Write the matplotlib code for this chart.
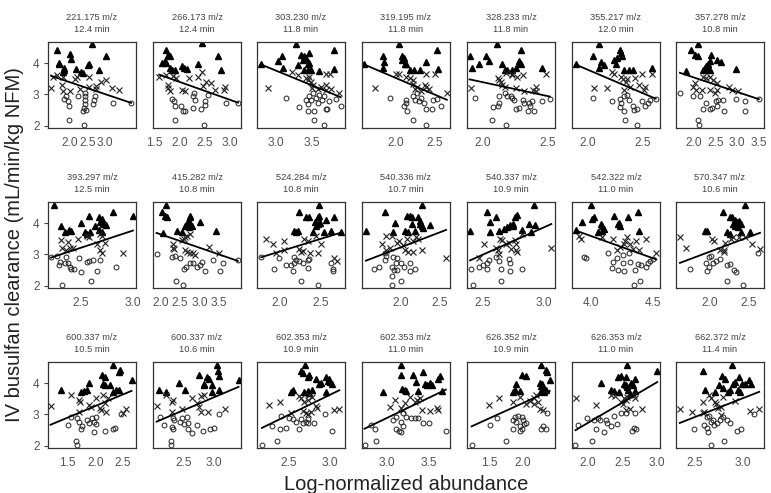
import numpy as np
import matplotlib
matplotlib.use("Agg")
import matplotlib.pyplot as plt

plt.rcParams['font.family'] = ['Liberation Sans', 'DejaVu Sans']

mz_labels = ["221.175 m/z", "266.173 m/z", "303.230 m/z", "319.195 m/z", "328.233 m/z", "355.217 m/z", "357.278 m/z",
             "393.297 m/z", "415.282 m/z", "524.284 m/z", "540.336 m/z", "540.337 m/z", "542.322 m/z", "570.347 m/z",
             "600.337 m/z", "600.337 m/z", "602.353 m/z", "602.353 m/z", "626.352 m/z", "626.353 m/z", "662.372 m/z"]
rt_labels = ["12.4 min", "12.4 min", "11.8 min", "11.8 min", "11.8 min", "12.0 min", "10.8 min",
             "12.5 min", "10.8 min", "10.8 min", "10.7 min", "10.9 min", "11.0 min", "10.6 min",
             "10.5 min", "10.6 min", "10.9 min", "11.0 min", "10.9 min", "11.0 min", "11.4 min"]
x_ticks = [[2.0, 2.5, 3.0], [1.5, 2.0, 2.5, 3.0], [3.0, 3.5], [2.0, 2.5], [2.0, 2.5], [2.0, 2.5], [2.0, 2.5, 3.0, 3.5],
           [2.5, 3.0], [2.0, 2.5, 3.0, 3.5], [2.0, 2.5], [2.0, 2.5], [2.5, 3.0], [4.0, 4.5], [2.0, 2.5],
           [1.5, 2.0, 2.5], [2.5, 3.0], [2.5, 3.0], [3.0, 3.5], [1.5, 2.0], [2.0, 2.5, 3.0], [2.5, 3.0]]
x_limits = [(1.40, 3.87), (1.48, 3.21), (2.73, 3.96), (1.58, 2.69), (1.88, 2.56), (1.856, 2.66), (1.58, 3.62),
            (2.18, 3.03), (1.81, 4.06), (1.73, 2.79), (1.51, 2.63), (2.37, 3.09), (3.85, 4.56), (1.58, 2.69),
            (1.155, 2.73), (2.0, 3.44), (2.11, 3.19), (2.70, 3.75), (1.17, 2.49), (1.77, 3.04), (2.30, 3.22)]
y_ticks = [2, 3, 4]
y_limits = (1.93, 4.67)

# fitted linear regression (clearance = intercept + slope * abundance) per panel
fit_slope = [-0.383, -0.576, -0.935, -1.078, -0.883, -1.486, -0.459,
             1.090, -0.429, 0.816, 0.961, 1.742, -1.415, 0.949,
             0.745, 0.827, 1.263, 1.284, 0.964, 1.299, 1.195]
fit_intercept = [4.160, 4.552, 6.559, 5.686, 5.157, 6.759, 4.455,
                 0.490, 4.500, 1.457, 1.301, -1.362, 9.251, 1.183,
                 1.776, 1.066, -0.171, -0.961, 1.425, 0.133, -0.068]

# (abundance, clearance) pairs per panel; triangles = high, crosses = mid, circles = low clearance
high = [
 [(1.65,4.43),(2.63,4.62),(3.04,4.23),(2.03,4.29),(2.05,4.13),(1.70,4.0),(1.72,3.97),(1.84,3.84),(1.85,3.79),(1.83,3.73),(2.19,3.81),(2.33,3.73),(2.56,3.97),(2.53,3.93),(2.83,3.77),(2.38,3.68)],
 [(1.73,4.43),(2.44,4.64),(2.76,4.23),(1.78,4.27),(1.82,4.21),(1.71,4.05),(1.74,4.0),(1.82,3.84),(1.85,3.79),(1.92,3.79),(2.05,3.89),(2.08,3.84),(2.15,3.81),(2.37,3.97),(2.82,3.77),(1.66,4.0)],
 [(3.27,4.62),(2.79,3.98),(3.02,4.05),(3.08,4.23),(3.09,3.84),(3.31,3.95),(3.35,4.27),(3.37,4.11),(3.39,4.21),(3.42,4.16),(3.44,3.98),(3.46,4.0),(3.39,3.79),(3.44,3.77),(3.49,3.79),(3.60,3.76),(3.80,4.43),(3.80,3.81),(3.46,4.32)],
 [(2.05,4.62),(1.61,3.98),(1.84,4.23),(1.86,4.02),(1.84,3.84),(2.08,4.21),(2.11,4.16),(2.09,4.11),(2.12,3.98),(2.14,3.98),(2.18,3.79),(2.23,3.77),(2.31,3.77),(2.39,4.02),(2.52,4.43),(2.54,3.81)],
 [(2.115,4.62),(1.92,3.84),(1.90,4.21),(1.97,3.98),(2.03,4.23),(2.05,4.05),(2.17,3.77),(2.19,3.77),(2.23,3.79),(2.15,3.98),(2.26,3.84),(2.30,4.43),(2.28,4.05),(2.29,4.0),(2.30,3.97),(2.46,3.84)],
 [(2.10,4.62),(1.89,3.98),(2.05,4.23),(2.12,4.02),(2.15,3.95),(2.10,3.84),(2.24,4.11),(2.26,3.98),(2.29,4.43),(2.30,4.32),(2.31,4.23),(2.27,4.16),(2.33,3.77),(2.38,3.79),(2.41,3.77),(2.59,3.84)],
 [(2.08,4.62),(1.92,4.43),(2.02,4.27),(2.09,4.23),(1.81,3.76),(2.21,3.79),(2.25,3.84),(2.28,3.89),(2.32,3.98),(2.36,4.05),(2.40,4.27),(2.28,3.77),(2.36,3.77),(2.52,4.11),(2.63,4.02),(2.96,3.81)],
 [(2.24,4.56),(2.31,3.92),(2.34,3.73),(2.38,3.78),(2.40,3.76),(2.50,4.00),(2.58,4.21),(2.54,3.71),(2.56,3.66),(2.59,3.71),(2.63,3.89),(2.67,4.18),(2.70,4.13),(2.68,4.02),(2.71,3.97),(2.74,3.95),(2.67,3.78),(2.70,3.73),(2.81,4.36),(3.00,4.21)],
 [(2.14,4.56),(2.05,4.36),(2.11,4.23),(2.16,4.18),(2.07,3.68),(2.42,3.76),(2.55,3.73),(2.63,3.92),(2.68,3.99),(2.72,4.07),(2.75,4.18),(2.76,4.23),(2.72,3.86),(2.81,3.92),(3.01,4.02),(3.41,3.76)],
 [(2.48,4.56),(2.24,4.36),(2.32,4.20),(2.36,4.18),(2.46,4.20),(2.48,4.23),(2.43,4.02),(2.46,3.97),(2.49,3.99),(2.44,3.92),(2.56,4.09),(2.66,4.20),(2.18,3.76),(2.22,3.76),(2.20,3.71),(2.40,3.71),(2.54,3.73),(2.62,3.76),(2.74,3.71)],
 [(1.56,3.76),(1.80,4.36),(2.08,4.21),(2.12,4.23),(2.14,4.20),(2.28,4.56),(1.93,3.99),(2.15,3.97),(2.22,4.18),(2.25,4.07),(2.25,3.97),(2.27,3.89),(2.29,3.84),(2.37,3.95),(1.91,3.71),(2.06,3.74),(2.10,3.71),(2.18,3.76)],
 [(2.395,3.76),(2.53,4.36),(2.56,4.02),(2.61,4.20),(2.56,3.71),(2.63,3.76),(2.67,3.81),(2.70,3.86),(2.72,3.95),(2.75,3.92),(2.76,4.18),(2.92,4.56),(2.78,4.26),(2.75,3.97),(2.875,3.97),(2.93,3.95),(2.89,3.71),(2.82,3.78)],
 [(4.005,4.56),(3.88,3.78),(3.93,4.02),(4.01,4.13),(4.03,4.18),(4.08,3.97),(4.09,3.92),(4.06,3.71),(4.09,3.76),(4.11,3.81),(4.19,4.23),(4.22,3.97),(4.23,3.99),(4.24,3.92),(4.30,4.20),(4.38,4.36),(4.39,3.74)],
 [(2.45,4.56),(2.175,4.36),(1.95,3.76),(1.97,3.76),(2.26,4.20),(2.29,4.18),(2.32,4.09),(2.35,4.02),(2.375,4.07),(2.30,3.97),(2.33,3.92),(2.36,3.86),(2.40,3.97),(2.22,3.71),(2.26,3.66),(2.40,3.71),(2.51,3.71)],
 [(2.32,4.58),(1.38,3.77),(1.74,3.72),(1.80,3.74),(1.85,3.77),(1.88,4.00),(2.12,4.24),(2.18,4.19),(2.14,3.98),(2.18,3.93),(2.27,3.93),(2.32,3.72),(2.43,4.35),(2.45,4.40),(2.37,3.77),(2.43,3.77),(2.65,4.10)],
 [(2.10,3.77),(2.22,3.72),(2.42,4.00),(2.53,3.77),(2.75,4.24),(2.83,3.98),(2.84,3.93),(2.89,4.19),(2.92,4.14),(2.97,3.72),(3.04,4.58),(3.07,4.38),(3.08,4.21),(3.08,3.77),(3.40,4.10),(2.96,3.93)],
 [(2.70,4.58),(2.65,4.38),(2.67,4.31),(2.73,4.19),(2.75,4.24),(2.83,4.14),(2.53,3.72),(2.55,3.77),(2.69,3.72),(2.73,3.74),(2.75,3.69),(2.79,3.77),(2.87,3.98),(2.90,4.00),(2.96,4.19),(2.99,4.14),(2.98,4.08),(3.03,3.98),(3.01,4.04),(2.96,3.72)],
 [(3.17,4.58),(2.95,3.72),(3.17,4.24),(3.18,3.82),(3.21,3.79),(3.23,3.75),(3.31,4.24),(3.35,4.03),(3.43,4.35),(3.37,3.74),(3.45,3.98),(3.47,3.93),(3.51,4.00),(3.53,3.93),(3.61,4.14),(3.63,4.21),(3.66,3.74)],
 [(1.91,3.96),(1.885,3.77),(1.86,3.72),(2.28,4.58),(2.00,4.24),(2.06,4.21),(2.35,4.40),(2.37,4.35),(2.41,4.10),(2.26,4.00),(2.30,3.96),(2.28,3.90),(2.31,3.85),(1.96,3.75),(2.28,3.75),(2.33,3.72),(2.36,3.77)],
 [(2.57,4.58),(3.00,4.38),(2.19,4.00),(2.43,4.19),(2.47,4.21),(2.55,4.19),(2.33,3.77),(2.38,3.75),(2.52,3.98),(2.55,3.93),(2.57,3.87),(2.58,3.77),(2.62,4.00),(2.65,3.93),(2.68,4.14),(2.45,3.72),(2.60,3.66),(2.68,3.75)],
 [(2.58,4.38),(2.89,4.58),(2.60,3.77),(2.71,3.72),(2.78,4.21),(2.81,4.14),(2.75,3.93),(2.79,3.85),(2.84,3.72),(2.86,3.77),(2.90,3.98),(2.92,4.04),(2.96,4.19),(2.99,3.96),(3.02,3.98),(2.95,3.77),(2.97,3.72),(3.06,4.10),(3.08,3.96)],
]
mid = [
 [(1.49,3.20),(1.54,3.55),(1.65,3.62),(1.82,3.57),(1.80,3.31),(1.81,3.10),(2.01,3.10),(2.17,3.49),(2.20,3.55),(2.31,3.17),(2.54,3.54),(2.56,3.23),(2.74,3.28),(2.74,3.17),(2.88,3.38),(3.02,3.45),(3.19,3.20),(3.39,3.13)],
 [(1.60,3.55),(1.73,3.63),(1.77,3.31),(1.77,3.20),(1.82,3.10),(1.88,3.60),(1.94,3.52),(2.05,3.15),(2.10,3.10),(2.18,3.52),(2.37,3.55),(2.44,3.70),(2.47,3.26),(2.52,3.41),(2.63,3.36),(2.69,3.13),(2.89,3.23),(2.87,3.15)],
 [(2.88,3.20),(3.22,3.70),(3.31,3.63),(3.42,3.52),(3.44,3.47),(3.45,3.57),(3.49,3.41),(3.51,3.31),(3.50,3.20),(3.58,3.17),(3.63,3.23),(3.69,3.66),(3.75,3.66),(3.70,3.31),(3.69,3.13),(3.87,3.06),(3.76,3.17)],
 [(1.74,3.20),(2.01,3.66),(2.05,3.66),(2.13,3.57),(2.18,3.52),(2.22,3.47),(2.22,3.34),(2.25,3.17),(2.28,3.23),(2.33,3.10),(2.37,3.31),(2.39,3.23),(2.42,3.17),(2.39,3.66),(2.50,3.66),(2.65,3.06)],
 [(1.91,3.20),(2.12,3.52),(2.13,3.47),(2.14,3.38),(2.15,3.31),(2.17,3.23),(2.18,3.68),(2.23,3.63),(2.26,3.20),(2.23,3.66),(2.31,3.63),(2.27,3.55),(2.32,3.10),(2.39,3.15),(2.41,3.23),(2.41,3.10),(2.49,3.66)],
 [(2.06,3.20),(2.18,3.20),(2.22,3.70),(2.24,3.66),(2.30,3.57),(2.32,3.49),(2.35,3.41),(2.36,3.49),(2.33,3.15),(2.39,3.23),(2.43,3.52),(2.47,3.31),(2.50,3.66),(2.52,3.23),(2.51,3.15),(2.59,3.66)],
 [(2.02,3.36),(1.98,3.23),(2.05,3.15),(2.19,3.15),(2.21,3.57),(2.28,3.52),(2.36,3.55),(2.44,3.47),(2.36,3.13),(2.48,3.06),(2.52,3.15),(2.53,3.36),(2.82,3.23),(2.88,3.13),(3.02,3.10)],
 [(2.31,3.47),(2.37,3.40),(2.32,3.22),(2.35,3.14),(2.39,3.22),(2.42,3.19),(2.47,3.50),(2.56,3.60),(2.58,3.55),(2.68,3.66),(2.70,3.60),(2.65,3.34),(2.73,3.36),(2.68,3.14),(2.70,3.03),(2.90,3.03)],
 [(2.31,3.32),(2.33,3.22),(2.35,3.16),(2.55,3.45),(2.59,3.50),(2.63,3.55),(2.68,3.60),(2.76,3.66),(2.63,3.14),(2.69,3.08),(2.76,3.05),(2.83,3.03),(2.89,2.98),(3.24,3.24),(3.50,3.05)],
 [(1.84,3.50),(1.92,3.32),(2.06,3.43),(1.96,3.03),(2.06,3.14),(2.23,3.16),(2.26,3.08),(2.30,3.50),(2.34,3.43),(2.28,3.11),(2.37,3.03),(2.46,3.03),(2.50,3.32),(2.44,3.60),(2.66,2.88),(2.69,2.80)],
 [(1.76,3.32),(1.81,3.60),(1.89,3.60),(1.82,3.14),(1.86,3.19),(1.95,3.36),(1.98,3.43),(2.03,3.29),(2.08,3.50),(2.16,3.43),(2.06,3.14),(2.10,3.08),(2.16,3.08),(2.20,3.55),(2.22,3.50),(2.27,3.14),(2.58,2.88)],
 [(2.47,2.88),(2.51,3.32),(2.61,3.22),(2.62,3.14),(2.64,3.50),(2.66,3.45),(2.63,3.01),(2.69,3.32),(2.71,3.36),(2.73,3.16),(2.78,3.08),(2.82,3.66),(2.76,3.45),(2.77,3.32),(2.77,3.14),(3.06,3.19)],
 [(3.91,3.60),(3.92,3.50),(4.09,3.57),(4.18,3.50),(4.21,3.14),(4.24,3.24),(4.27,3.34),(4.28,3.43),(4.29,3.55),(4.32,3.32),(4.34,3.16),(4.37,3.43),(4.39,3.14),(4.45,3.50),(4.53,3.03)],
 [(1.63,3.57),(1.71,3.19),(2.03,3.50),(2.06,3.43),(2.20,3.36),(2.28,3.50),(2.30,3.57),(2.13,3.14),(2.18,3.08),(2.19,3.14),(2.38,3.55),(2.45,3.57),(2.54,3.32),(2.64,3.16)],
 [(1.20,3.27),(1.56,3.61),(1.71,3.46),(1.72,3.40),(1.71,3.09),(1.88,3.30),(1.92,3.25),(2.02,3.51),(2.08,3.19),(2.11,3.14),(2.14,3.61),(2.17,3.35),(2.20,3.09),(2.23,3.51),(2.50,3.06),(2.55,3.16)],
 [(2.06,3.27),(2.22,3.61),(2.31,3.40),(2.33,3.46),(2.31,3.09),(2.47,3.16),(2.64,3.51),(2.72,3.35),(2.75,3.25),(2.78,3.09),(2.78,3.58),(2.83,3.61),(2.90,3.09),(3.17,3.16)],
 [(2.26,3.30),(2.39,3.40),(2.53,3.06),(2.63,3.58),(2.65,3.51),(2.69,3.40),(2.73,3.46),(2.75,3.61),(2.78,3.56),(2.67,3.12),(2.71,3.06),(2.73,3.02),(2.77,3.09),(2.83,3.27),(2.85,3.19),(3.05,3.13),(3.12,3.16)],
 [(3.03,3.25),(3.09,3.46),(3.17,3.22),(3.19,3.14),(3.21,3.35),(3.27,3.56),(3.33,3.40),(3.36,3.47),(3.39,3.51),(3.41,3.14),(3.51,3.12),(3.59,3.22),(3.61,3.14)],
 [(1.50,3.30),(1.65,3.51),(1.86,3.40),(1.96,3.56),(2.06,3.33),(2.12,3.43),(2.17,3.51),(2.21,3.61),(2.18,3.33),(2.23,3.40),(2.27,3.16),(2.31,3.14)],
 [(1.83,3.51),(2.11,3.30),(2.33,3.61),(2.39,3.58),(2.48,3.40),(2.50,3.33),(2.52,3.51),(2.55,3.46),(2.57,3.56),(2.55,3.14),(2.60,3.16),(2.66,3.61),(2.68,3.51),(2.78,3.16)],
 [(2.34,3.16),(2.47,3.09),(2.58,3.40),(2.58,3.04),(2.59,3.09),(2.64,3.61),(2.67,3.51),(2.71,3.40),(2.72,3.33),(2.74,3.19),(2.77,3.25),(2.79,3.56),(2.77,2.98),(2.92,3.43),(3.07,3.12),(3.17,3.16)],
]
low = [
 [(1.86,2.85),(1.91,2.94),(1.95,2.78),(2.00,2.64),(1.98,2.17),(2.25,2.94),(2.43,3.06),(2.43,2.94),(2.44,2.83),(2.44,2.70),(2.42,2.56),(2.38,2.46),(2.48,2.51),(2.42,2.03),(2.69,2.83),(2.72,2.94),(2.67,2.70),(3.22,2.74),(3.73,2.72)],
 [(1.85,2.85),(1.89,2.78),(1.92,2.64),(2.04,2.62),(2.06,2.48),(2.10,2.46),(1.92,2.17),(2.27,2.94),(2.30,2.83),(2.29,3.06),(2.27,2.56),(2.42,2.53),(2.50,2.78),(2.51,2.67),(2.56,2.99),(2.49,2.03),(2.92,2.72),(3.15,2.72)],
 [(3.14,2.90),(3.32,2.59),(3.44,2.46),(3.46,2.94),(3.49,2.83),(3.51,3.04),(3.41,2.83),(3.44,2.70),(3.56,2.88),(3.58,2.74),(3.60,2.99),(3.52,2.46),(3.52,2.17),(3.64,2.83),(3.67,2.94),(3.69,2.53),(3.71,2.53),(3.74,2.78),(3.84,2.85),(3.90,2.64),(3.67,2.03)],
 [(1.93,2.90),(2.11,2.62),(2.14,2.83),(2.13,2.72),(2.15,2.46),(2.22,2.94),(2.25,2.83),(2.27,3.04),(2.32,2.90),(2.30,2.78),(2.22,2.17),(2.36,2.72),(2.39,2.53),(2.46,2.53),(2.47,2.83),(2.53,2.85),(2.58,2.64),(2.39,2.03)],
 [(1.94,2.90),(2.08,2.59),(2.13,2.94),(2.13,2.72),(2.12,2.64),(2.17,3.04),(2.19,2.94),(2.22,2.94),(2.24,2.83),(2.07,2.17),(2.18,2.03),(2.26,2.53),(2.23,2.90),(2.31,2.83),(2.32,2.72),(2.36,2.72),(2.37,2.64),(2.38,2.78),(2.35,2.46),(2.40,2.46),(2.28,2.56),(2.46,2.78),(2.52,2.85)],
 [(2.05,2.90),(2.22,2.78),(2.29,2.85),(2.30,2.72),(2.29,2.59),(2.33,2.94),(2.36,2.99),(2.33,2.46),(2.38,2.83),(2.41,2.64),(2.42,2.51),(2.45,2.53),(2.34,2.17),(2.45,2.03),(2.50,2.78),(2.52,2.64),(2.55,2.72),(2.57,2.83),(2.62,2.85)],
 [(1.67,3.04),(1.98,2.94),(2.13,2.94),(2.21,2.53),(2.28,2.72),(2.36,2.53),(2.42,2.56),(2.50,2.78),(2.55,2.83),(2.52,2.64),(2.67,2.83),(2.69,2.46),(2.09,2.17),(2.12,2.03),(2.98,2.85),(3.17,2.78),(3.17,2.48),(3.50,2.85)],
 [(2.21,2.93),(2.27,2.95),(2.29,2.67),(2.30,2.77),(2.34,2.72),(2.37,2.74),(2.35,2.93),(2.39,2.61),(2.40,2.53),(2.43,2.53),(2.48,2.88),(2.50,2.43),(2.56,2.77),(2.58,2.80),(2.61,2.82),(2.60,2.15),(2.65,2.46),(2.68,2.82),(2.84,2.61),(2.32,2.04)],
 [(1.90,3.01),(2.29,2.91),(2.37,2.95),(2.50,2.88),(2.59,2.53),(2.66,2.61),(2.75,2.72),(2.83,2.74),(2.94,2.61),(3.01,2.66),(3.07,2.77),(3.13,2.46),(3.35,2.82),(3.53,2.46),(3.59,2.74),(2.40,2.15),(2.57,2.04),(3.98,2.82)],
 [(1.78,2.91),(1.99,2.88),(1.94,2.53),(2.08,2.67),(2.14,2.67),(2.17,2.91),(2.20,2.82),(2.18,2.74),(2.24,2.80),(2.28,2.74),(2.34,2.82),(2.36,2.84),(2.16,2.46),(2.35,2.56),(2.26,2.15),(2.47,2.04),(2.64,2.46),(2.65,2.53),(2.62,2.72)],
 [(1.80,3.05),(1.82,2.95),(1.66,2.53),(1.73,2.61),(1.80,2.82),(1.91,2.91),(1.95,2.88),(1.94,2.74),(1.89,2.59),(1.92,2.51),(1.95,2.51),(1.89,2.30),(2.01,2.72),(2.04,2.61),(2.01,2.15),(1.89,2.04),(2.12,2.46),(2.18,2.53),(2.12,2.72)],
 [(2.40,2.53),(2.47,2.61),(2.50,2.67),(2.53,2.74),(2.55,2.82),(2.61,2.91),(2.63,2.80),(2.65,2.53),(2.71,2.84),(2.72,2.72),(2.72,2.46),(2.65,2.15),(2.42,2.04),(2.53,2.53),(2.82,2.53)],
 [(3.95,2.93),(3.96,2.88),(4.14,3.03),(4.18,2.77),(4.17,2.56),(4.21,2.88),(4.22,2.51),(4.26,2.72),(4.27,2.46),(4.26,2.98),(4.31,3.03),(4.32,2.77),(4.36,2.51),(4.38,2.70),(4.41,2.67),(4.45,2.61),(4.46,2.72),(4.48,2.80),(4.50,2.84),(4.35,2.04),(4.40,2.15)],
 [(1.76,2.53),(2.00,2.91),(2.02,2.95),(1.96,2.72),(1.99,2.61),(1.975,2.46),(2.09,2.80),(2.13,2.84),(2.22,2.67),(2.26,2.70),(2.31,2.51),(2.34,2.43),(2.05,2.74),(2.225,2.15),(2.42,2.04),(2.61,3.03)],
 [(1.52,2.67),(1.56,2.91),(1.68,2.88),(1.71,2.77),(1.74,2.53),(1.77,2.62),(1.86,2.81),(1.89,2.72),(1.95,2.88),(1.98,2.77),(2.02,2.91),(2.02,2.69),(1.65,2.15),(1.68,2.04),(1.98,2.43),(2.17,2.46),(2.31,2.53),(2.35,2.57),(2.47,3.02)],
 [(2.11,2.91),(2.18,2.67),(2.32,2.88),(2.34,2.81),(2.32,2.53),(2.31,2.60),(2.44,2.77),(2.47,2.88),(2.50,2.70),(2.56,2.91),(2.58,2.72),(2.58,2.53),(2.29,2.15),(2.29,2.04),(2.64,2.41),(2.82,2.46),(2.94,2.53),(2.99,2.57),(3.08,3.02),(2.72,2.67)],
 [(2.17,2.04),(2.29,2.64),(2.39,2.53),(2.47,2.57),(2.41,2.95),(2.50,2.88),(2.55,2.85),(2.59,2.77),(2.65,2.85),(2.68,2.72),(2.71,2.77),(2.74,2.85),(2.74,2.72),(2.81,2.72),(2.63,2.53),(2.36,2.15),(2.94,3.02),(3.03,2.46)],
 [(2.73,2.04),(2.85,2.53),(2.87,2.15),(2.81,2.67),(3.07,2.81),(3.10,2.93),(3.11,2.53),(3.14,2.46),(3.17,2.43),(3.17,2.77),(3.19,2.64),(3.22,2.93),(3.29,2.90),(3.33,2.88),(3.37,2.88),(3.19,3.04),(3.43,2.74),(3.50,2.72),(3.70,2.46)],
 [(1.24,2.04),(1.52,2.67),(1.62,2.88),(1.76,2.15),(1.86,2.53),(1.885,2.91),(1.91,2.77),(1.86,2.81),(1.93,2.95),(1.99,2.91),(2.01,2.81),(1.96,2.62),(1.99,2.53),(2.03,2.70),(2.06,2.74),(1.96,2.46),(2.28,2.53),(2.31,2.62),(2.36,2.53),(2.37,3.04)],
 [(1.82,2.04),(1.85,2.67),(1.98,2.88),(2.09,2.83),(2.11,2.53),(2.06,2.15),(2.15,2.88),(2.18,2.81),(2.26,2.83),(2.28,2.74),(2.33,2.62),(2.42,2.70),(2.38,2.95),(2.23,2.43),(2.48,3.04),(2.55,3.04),(2.63,2.46),(2.66,2.57),(2.69,2.53),(2.68,3.04)],
 [(2.49,2.53),(2.62,2.91),(2.59,2.67),(2.62,2.56),(2.63,2.43),(2.65,2.95),(2.67,2.77),(2.69,2.81),(2.70,2.67),(2.73,2.72),(2.76,2.83),(2.79,2.91),(2.83,2.81),(2.86,2.74),(2.67,2.04),(2.80,2.15),(2.94,2.46),(2.98,2.53),(3.12,3.02)],
]

W, H = 771, 493
fig = plt.figure(figsize=(W / 100, H / 100), dpi=100)
col_left = [48, 153, 257, 362, 467, 572, 676]
row_top = [42, 202, 362]
pw, ph = 88, 86
gray = '#555555'

for i in range(21):
    r, c = divmod(i, 7)
    ax = fig.add_axes([col_left[c] / W, 1 - (row_top[r] + ph) / H, pw / W, ph / H])
    hx, hy = zip(*high[i])
    mx, my = zip(*mid[i])
    lx, ly = zip(*low[i])
    ax.plot(hx, hy, linestyle='none', marker='^', markersize=4.6, color='black')
    ax.plot(mx, my, linestyle='none', marker='x', markersize=3.8, mew=0.8, color='#222222')
    ax.plot(lx, ly, linestyle='none', marker='o', markersize=3.5, mew=0.7, mfc='none', mec='#222222')
    allx = np.array(hx + mx + lx)
    xs = np.array([allx.min(), allx.max()])
    ax.plot(xs, fit_intercept[i] + fit_slope[i] * xs, color='black', lw=1.3)
    ax.set_xlim(*x_limits[i])
    ax.set_ylim(*y_limits)
    ax.set_xticks(x_ticks[i])
    ax.set_xticklabels(["%.1f" % t for t in x_ticks[i]])
    ax.tick_params(axis='x', length=0, pad=6.5, labelsize=8.6, labelcolor=gray)
    if c == 0:
        ax.set_yticks(y_ticks)
        ax.set_yticklabels([str(t) for t in y_ticks])
        ax.tick_params(axis='y', length=3, width=0.8, pad=3, labelsize=8.6, labelcolor=gray, color='#444444')
    else:
        ax.set_yticks([])
    for s in ax.spines.values():
        s.set_color('#333333')
        s.set_linewidth(0.9)
    ax.set_title(mz_labels[i] + "\n" + rt_labels[i], fontsize=6.7, color='#444444', pad=7.5, linespacing=1.3)

fig.text(15 / W, 1 - 245 / H, "IV busulfan clearance (mL/min/kg NFM)", rotation=90,
         ha='center', va='center', fontsize=14.5, color='#222222')
fig.text(406 / W, 1 - 484 / H, "Log-normalized abundance", ha='center', va='center',
         fontsize=14.5, color='#222222')

fig.savefig("out.png", dpi=100)
